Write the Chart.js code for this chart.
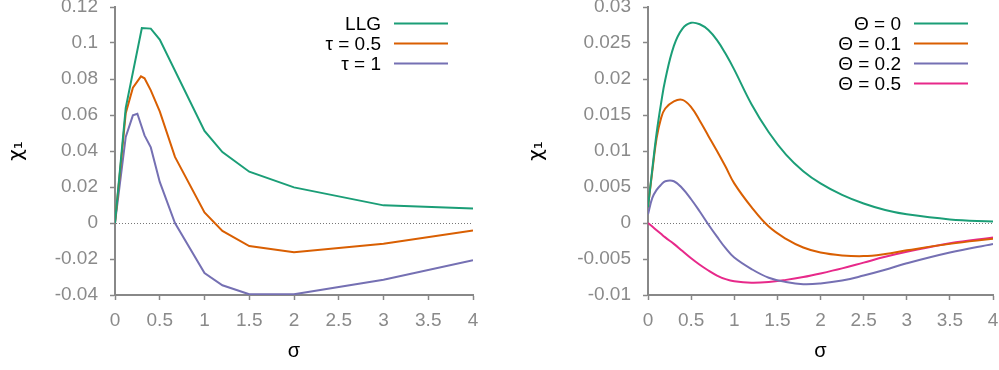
<!DOCTYPE html>
<html>
<head>
<meta charset="utf-8">
<script src="https://cdn.jsdelivr.net/npm/chart.js@4"></script>
<style>
  html, body { margin: 0; padding: 0; background: #fff; }
  #wrap { position: relative; width: 999px; height: 370px; }
  canvas { position: absolute; top: 0; }
</style>
</head>
<body>
<div id="wrap">
  <canvas id="leftChart" width="500" height="370" style="left:0"></canvas>
  <canvas id="rightChart" width="499" height="370" style="left:500px"></canvas>
</div>
<script>
/* ===== Data: left panel ===== */

const llgSigma = [0, 0.12, 0.3, 0.4, 0.5, 1, 1.2, 1.5, 2, 3, 4];
const llgChi = [0, 0.064, 0.1083, 0.108, 0.1019, 0.0511, 0.0394, 0.0285, 0.0198, 0.0098, 0.0081];

const tauHalfSigma = [0, 0.12, 0.2, 0.29, 0.33, 0.4, 0.5, 0.67, 1, 1.2, 1.5, 2, 3, 4];
const tauHalfChi = [0, 0.061, 0.0752, 0.0815, 0.0804, 0.0737, 0.062, 0.0367, 0.0059, -0.0044, -0.0128, -0.0163, -0.0115, -0.0041];

const tauOneSigma = [0, 0.12, 0.2, 0.25, 0.33, 0.4, 0.5, 0.67, 1, 1.2, 1.5, 2, 3, 4];
const tauOneChi = [0, 0.0478, 0.0598, 0.0607, 0.0487, 0.042, 0.0228, 0, -0.0278, -0.0346, -0.0396, -0.0396, -0.0315, -0.0207];

const leftLabels = ["LLG", "τ = 0.5", "τ = 1"];
const leftYTicks = [-0.04, -0.02, 0, 0.02, 0.04, 0.06, 0.08, 0.1, 0.12];

/* ===== Data: right panel ===== */

const rightSigma = [0, 0.05, 0.1, 0.15, 0.2, 0.3, 0.4, 0.5, 0.6, 0.7, 0.8, 0.9, 1.0, 1.2, 1.4, 1.6, 1.8, 2.0, 2.25, 2.5, 2.75, 3.0, 3.5, 4.0];
const theta0Chi = [0.0022, 0.0075, 0.0125, 0.0165, 0.0199, 0.0246, 0.027, 0.0278, 0.0276, 0.0268, 0.0254, 0.0235, 0.0213, 0.0165, 0.0126, 0.0095, 0.0072, 0.0055, 0.0039, 0.0027, 0.0018, 0.0012, 0.0005, 0.0002];
const theta01Chi = [0.0022, 0.0072, 0.0118, 0.0145, 0.0159, 0.0169, 0.0171, 0.0161, 0.0142, 0.0121, 0.01, 0.0078, 0.0055, 0.0022, -0.0005, -0.0022, -0.0034, -0.0041, -0.0045, -0.0046, -0.0043, -0.0038, -0.0029, -0.0022];
const theta02Chi = [0.0012, 0.0035, 0.0046, 0.0053, 0.0058, 0.0058, 0.0048, 0.0033, 0.0016, -0.0002, -0.0019, -0.0035, -0.0048, -0.0064, -0.0076, -0.0082, -0.0085, -0.0084, -0.008, -0.0073, -0.0065, -0.0056, -0.0041, -0.0029];
const theta05Chi = [0, -0.0005, -0.001, -0.0015, -0.002, -0.0029, -0.0039, -0.0049, -0.0058, -0.0066, -0.0073, -0.0078, -0.0081, -0.0083, -0.0082, -0.0079, -0.0075, -0.007, -0.0063, -0.0055, -0.0047, -0.004, -0.0028, -0.002];

const rightLabels = ["Θ = 0", "Θ = 0.1", "Θ = 0.2", "Θ = 0.5"];
const rightYTicks = [-0.01, -0.005, 0, 0.005, 0.01, 0.015, 0.02, 0.025, 0.03];

const xTicks = [0, 0.5, 1, 1.5, 2, 2.5, 3, 3.5, 4];
const colors = ["#1b9e77", "#d95f02", "#7570b3", "#e7298a"];

/* ===== Helpers ===== */

const FONT = '"Liberation Sans", Arial, sans-serif';

function pts(xs, ys) {
  return xs.map((x, i) => ({ x: x, y: ys[i] }));
}

function series(label, xs, ys, color, smooth) {
  return {
    label: label,
    data: pts(xs, ys),
    borderColor: color,
    borderWidth: 2,
    pointRadius: 0,
    fill: false,
    tension: smooth ? 0.4 : 0 // right panel is a smooth curve
  };
}

// legend drawn inside the plot, text right-aligned with the line sample after it
const insideLegend = {
  id: "insideLegend",
  afterDraw(chart) {
    const { ctx, chartArea } = chart;
    ctx.save();
    ctx.font = "19px " + FONT;
    ctx.textAlign = "right";
    ctx.textBaseline = "middle";
    chart.data.datasets.forEach((ds, i) => {
      const y = chartArea.top + 16.5 + i * 20;
      const x1 = chartArea.right - 79;
      const x2 = chartArea.right - 25;
      ctx.strokeStyle = ds.borderColor;
      ctx.lineWidth = 2;
      ctx.beginPath();
      ctx.moveTo(x1, y);
      ctx.lineTo(x2, y);
      ctx.stroke();
      ctx.fillStyle = "#000";
      ctx.fillText(ds.label, x1 - 13, y + 1);
    });
    ctx.restore();
  }
};

function makePanel(canvasId, datasets, yTicks, yAxisWidth, rightPad, yTitlePad) {
  return new Chart(document.getElementById(canvasId), {
    type: "line",
    data: { datasets: datasets },
    options: {
      responsive: false,
      animation: false,
      layout: { padding: { top: 7, right: rightPad, left: 0, bottom: 0 } },
      plugins: { legend: { display: false }, tooltip: { enabled: false } },
      scales: {
        x: {
          type: "linear",
          min: 0,
          max: 4,
          afterBuildTicks: s => { s.ticks = xTicks.map(v => ({ value: v })); },
          afterFit: s => { s.height = 75; s.paddingLeft = 0; s.paddingRight = 0; },
          ticks: {
            color: "#8a8a8a",
            font: { family: FONT, size: 19 },
            padding: 9,
            maxRotation: 0,
            autoSkip: false,
            callback: v => String(v)
          },
          grid: { drawOnChartArea: false, drawTicks: true, tickLength: 5, tickColor: "#888", tickWidth: 1.5 },
          border: { color: "#888", width: 2 },
          title: {
            display: true,
            text: "σ",
            color: "#000",
            font: { family: FONT, size: 20 },
            padding: { top: 0, bottom: 7 }
          }
        },
        y: {
          type: "linear",
          min: yTicks[0],
          max: yTicks[yTicks.length - 1],
          afterBuildTicks: s => { s.ticks = yTicks.map(v => ({ value: v })); },
          afterFit: s => { s.width = yAxisWidth; s.paddingTop = 0; s.paddingBottom = 0; },
          ticks: {
            color: "#8a8a8a",
            font: { family: FONT, size: 19 },
            padding: 12,
            callback: v => String(v)
          },
          grid: {
            color: c => (c.tick && c.tick.value === 0 ? "#777" : "transparent"),
            lineWidth: 1,
            drawTicks: true,
            tickLength: 5,
            tickColor: "#888",
            tickWidth: 1.5
          },
          border: { color: "#888", width: 2, dash: [1, 2] },
          title: {
            display: true,
            text: "χ₁",
            color: "#000",
            font: { family: '"DejaVu Sans", ' + FONT, size: 20 },
            padding: { top: yTitlePad, bottom: 0 }
          }
        }
      }
    },
    plugins: [insideLegend]
  });
}

/* ===== Build panels ===== */

makePanel("leftChart", [
  series(leftLabels[0], llgSigma, llgChi, colors[0], false),
  series(leftLabels[1], tauHalfSigma, tauHalfChi, colors[1], false),
  series(leftLabels[2], tauOneSigma, tauOneChi, colors[2], false)
], leftYTicks, 115, 27, 5);

makePanel("rightChart", [
  series(rightLabels[0], rightSigma, theta0Chi, colors[0], true),
  series(rightLabels[1], rightSigma, theta01Chi, colors[1], true),
  series(rightLabels[2], rightSigma, theta02Chi, colors[2], true),
  series(rightLabels[3], rightSigma, theta05Chi, colors[3], true)
], rightYTicks, 148, 6, 25);
</script>
</body>
</html>
